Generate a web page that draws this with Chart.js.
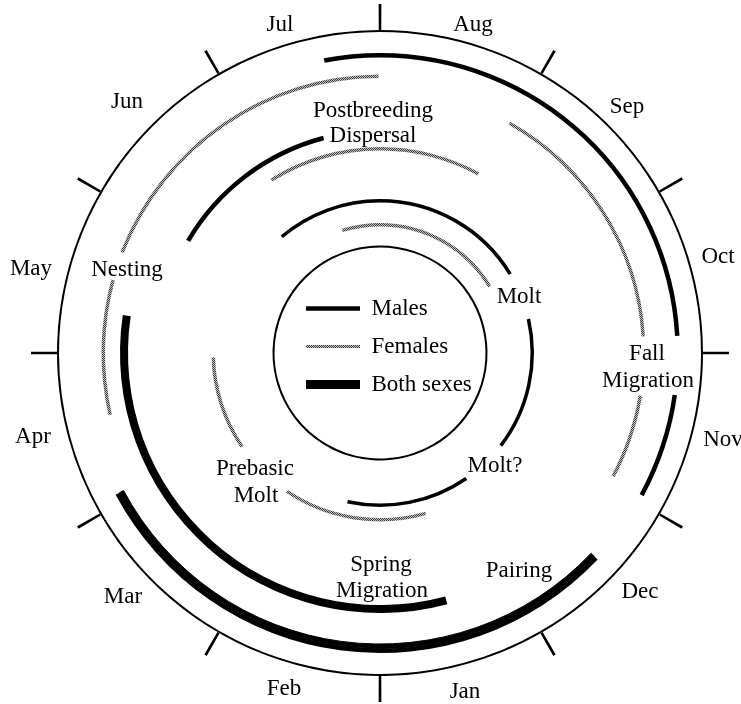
<!DOCTYPE html>
<html>
<head>
<meta charset="utf-8">
<script src="https://cdn.jsdelivr.net/npm/chart.js@4/dist/chart.umd.min.js"></script>
<style>
  html, body { margin: 0; padding: 0; background: #fff; }
  #wrap { width: 741px; height: 704px; }
</style>
</head>
<body>
<div id="wrap"><canvas id="cycleChart"></canvas></div>
<script>
const TOP_MONTH = 8; // 1 Aug sits at twelve o'clock, months run clockwise
const monthNames = ['Jan', 'Feb', 'Mar', 'Apr', 'May', 'Jun', 'Jul', 'Aug', 'Sep', 'Oct', 'Nov', 'Dec'];

// spans as decimal month of year: 1 = 1 Jan, 12.5 = mid Dec; an end below its start runs over new year
const malesFall = [[7.64, 10.89], [11.27, 11.95]];
const bothPairing = [[12.45, 4.06]];
const femalesNesting = [[4.57, 5.51], [5.71, 7.99]];
const femalesFall = [[8.98, 10.88], [11.31, 11.93]];
const bothSpring = [[1.50, 5.28]];
const malesDispersal = [[6.01, 7.51]];
const femalesDispersal = [[6.93, 8.96]];
const femalesPrebasic = [[1.47, 3.13], [3.86, 4.95]];
const malesMolt = [[6.66, 9.96], [10.57, 12.25], [12.85, 2.41]];
const femalesMolt = [[7.43, 9.96]];
const wholeYear = [[1, 13]];

const legendNames = ['Males', 'Females', 'Both sexes'];

// month label centres, offsets from the ring centre (same order as monthNames)
const monthLabelPos = [
  [85, 339], [-96, 336], [-257, 244], [-347, 84], [-349, -84], [-253, -251],
  [-100, -328], [93, -328], [247, -246], [338, -96], [343, 87], [260, 239]
];

// text placed around the rings, offsets from the centre (baseline)
const notes = [
  ['Postbreeding', -7, -236], ['Dispersal', -7, -211],
  ['Nesting', -253, -77],
  ['Molt', 139, -50],
  ['Fall', 267, 7], ['Migration', 268, 34],
  ['Molt?', 115, 119],
  ['Prebasic', -125, 122], ['Molt', -124, 149],
  ['Spring', 1, 218], ['Migration', 2, 244],
  ['Pairing', 139, 224]
];

const BLACK = '#000';
const NONE = 'rgba(0,0,0,0)';

function stipple() {
  const c = document.createElement('canvas');
  c.width = 2; c.height = 2;
  const g = c.getContext('2d');
  g.fillStyle = '#c4c4c4';
  g.fillRect(0, 0, 2, 2);
  g.fillStyle = '#3a3a3a';
  g.fillRect(0, 0, 1, 1);
  g.fillRect(1, 1, 1, 1);
  return g.createPattern(c, 'repeat');
}
const GREY = stipple();

// rings from the outside in, radii in px
const tickWidth = 0.015; // months
const rings = [
  { name: 'ticks', outer: 349, inner: 323 },
  { spans: wholeYear, outer: 323, inner: 321, color: BLACK },
  { spans: [...malesFall, ...bothPairing], outer: 300, inner: 295.5, color: BLACK },
  { spans: bothPairing, outer: 295.5, inner: 291, color: BLACK, seam: true },
  { spans: femalesNesting, outer: 278.5, inner: 275, color: GREY },
  { spans: femalesFall, outer: 265.5, inner: 262, color: GREY },
  { spans: bothSpring, outer: 260, inner: 252, color: BLACK },
  { spans: malesDispersal, outer: 224.5, inner: 220, color: BLACK },
  { spans: femalesDispersal, outer: 206, inner: 202.5, color: GREY },
  { spans: femalesPrebasic, outer: 168.5, inner: 165, color: GREY },
  { spans: malesMolt, outer: 154, inner: 150.5, color: BLACK },
  { spans: femalesMolt, outer: 130, inner: 126.5, color: GREY },
  { spans: wholeYear, outer: 107.5, inner: 105.5, color: BLACK }
];

function toOffset(m) {
  return ((m - TOP_MONTH) % 12 + 12) % 12;
}

function ringSegments(spans, color) {
  const pieces = [];
  spans.forEach(([a, b]) => {
    const s = toOffset(a);
    let len = ((b - a) % 12 + 12) % 12;
    if (len === 0) len = 12;
    if (s + len > 12) {
      pieces.push([s, 12]);
      pieces.push([0, s + len - 12]);
    } else {
      pieces.push([s, s + len]);
    }
  });
  pieces.sort((p, q) => p[0] - q[0]);
  const data = [];
  const colors = [];
  let cur = 0;
  pieces.forEach(([s, e]) => {
    if (s > cur) { data.push(s - cur); colors.push(NONE); }
    data.push(e - s); colors.push(color);
    cur = e;
  });
  if (cur < 12) { data.push(12 - cur); colors.push(NONE); }
  return { data, colors };
}

const datasets = [];
let lastInner = rings[0].outer;
rings.forEach(ring => {
  if (lastInner > ring.outer) {
    datasets.push({ data: [1], backgroundColor: [NONE], borderWidth: 0, weight: lastInner - ring.outer });
  }
  if (ring.name === 'ticks') {
    const data = [];
    const colors = [];
    monthNames.forEach(() => {
      data.push(tickWidth, 1 - tickWidth);
      colors.push(BLACK, NONE);
    });
    datasets.push({ data, backgroundColor: colors, borderWidth: 0, rotation: -tickWidth * 15, weight: ring.outer - ring.inner });
  } else {
    const seg = ringSegments(ring.spans, ring.color);
    datasets.push({
      data: seg.data,
      backgroundColor: seg.colors,
      borderColor: seg.colors,
      borderWidth: ring.seam ? 1 : 0,
      weight: ring.outer - ring.inner
    });
  }
  lastInner = ring.inner;
});
datasets.push({ data: [1], backgroundColor: [NONE], borderWidth: 0, weight: lastInner });

const FONT = 'Liberation Serif';
Chart.defaults.font.family = FONT;

const textPlugin = {
  id: 'cycleText',
  afterLayout(chart) {
    const lg = chart.legend;
    lg.left = 291;
    lg.top = 282;
    lg.right = lg.left + 220;
    lg.bottom = lg.top + 160;
  },
  afterDatasetsDraw(chart) {
    const { ctx } = chart;
    const arc = chart.getDatasetMeta(0).data[0];
    const cx = arc.x;
    const cy = arc.y;
    ctx.save();
    ctx.fillStyle = '#000';
    ctx.font = '23px "' + FONT + '"';
    ctx.textAlign = 'center';
    ctx.textBaseline = 'middle';
    monthNames.forEach((name, i) => {
      const [dx, dy] = monthLabelPos[i];
      ctx.fillText(name, cx + dx, cy + dy);
    });
    ctx.textBaseline = 'alphabetic';
    notes.forEach(([text, dx, dy]) => {
      ctx.fillText(text, cx + dx, cy + dy);
    });
    ctx.restore();
  }
};

const ctx = document.getElementById('cycleChart').getContext('2d');
new Chart(ctx, {
  type: 'doughnut',
  data: {
    labels: monthNames,
    datasets: datasets
  },
  options: {
    responsive: true,
    maintainAspectRatio: false,
    animation: false,
    events: [],
    radius: 349,
    cutout: 0,
    layout: { padding: { left: 19, top: 2, right: 0, bottom: 0 } },
    plugins: {
      tooltip: { enabled: false },
      legend: {
        display: true,
        position: 'chartArea',
        align: 'start',
        labels: {
          usePointStyle: true,
          pointStyleWidth: 54,
          boxHeight: 23,
          padding: 15,
          color: '#000',
          font: { family: FONT, size: 23 },
          generateLabels: () => legendNames.map((name, i) => ({
            text: name,
            pointStyle: 'line',
            strokeStyle: i === 1 ? GREY : BLACK,
            fillStyle: i === 1 ? GREY : BLACK,
            lineWidth: [4.5, 3, 9][i],
            lineCap: 'butt',
            hidden: false,
            datasetIndex: 0
          }))
        }
      }
    }
  },
  plugins: [textPlugin]
});
</script>
</body>
</html>
